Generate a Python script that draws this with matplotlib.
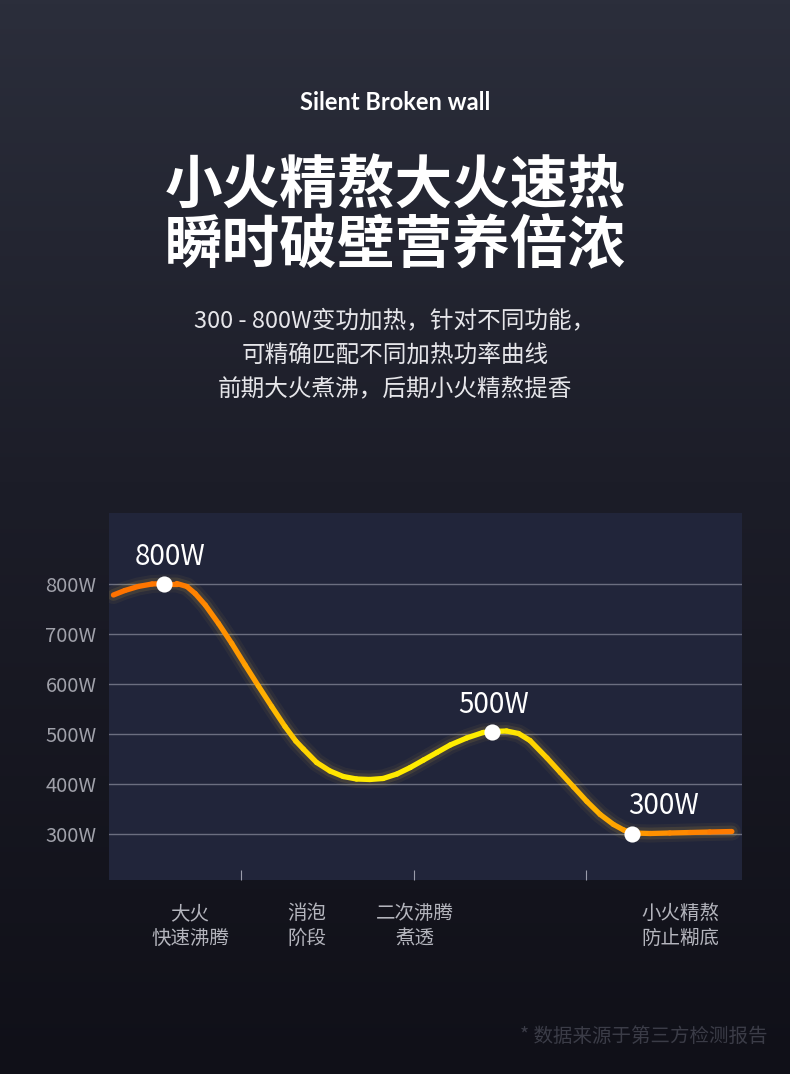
"""
Power curve poster: 300-800W variable heating curve with glow, on a dark gradient.
"""
import numpy as np
import matplotlib
matplotlib.use("Agg")
import matplotlib.pyplot as plt
from matplotlib.collections import LineCollection
from matplotlib.colors import LinearSegmentedColormap
from matplotlib.transforms import blended_transform_factory

plt.rcParams["font.family"] = ["Noto Sans CJK SC", "DejaVu Sans"]

# ---- data ----
# x: progress through the cooking programme, 0-100
curve_x = [0.7, 2.5, 4.6, 6.8, 8.7, 10.7, 12.3, 13.6, 15.2, 17.3, 19.4, 21.5,
           23.6, 25.7, 27.8, 29.5, 30.7, 32.8, 34.9, 37.0, 39.1, 41.2, 43.3,
           45.5, 47.6, 49.7, 51.8, 53.9, 56.5, 59.1, 60.5, 62.8, 64.7, 66.5,
           69.2, 71.3, 73.4, 75.5, 77.6, 79.7, 81.3, 82.7, 85.5, 88.6, 91.8,
           94.9, 98.4]
curve_w = [778, 787, 795, 800, 801, 801, 795, 781, 758, 721, 681, 638,
           596, 555, 515, 486, 470, 443, 426, 415, 410, 409, 411,
           420, 433, 448, 463, 478, 492, 503, 505, 506, 501, 487,
           452, 423, 394, 365, 339, 319, 308, 302, 301, 302, 303,
           304, 305]

point_x = [8.7, 60.5, 82.7]
point_w = [801, 505, 301]
point_labels = ["800W", "500W", "300W"]

y_ticks = [300, 400, 500, 600, 700, 800]
y_labels = ["300W", "400W", "500W", "600W", "700W", "800W"]

stage_ticks = [20.9, 48.2, 75.4]
stage_x = [12.8, 31.3, 48.3, 90.2]
stage_labels = ["大火\n快速沸腾", "消泡\n阶段", "二次沸腾\n煮透", "小火精熬\n防止糊底"]

eyebrow = "Silent Broken wall"
title_lines = ["小火精熬大火速热", "瞬时破壁营养倍浓"]
body_lines = ["300 - 800W变功加热，针对不同功能，",
              "可精确匹配不同加热功率曲线",
              "前期大火煮沸，后期小火精熬提香"]
footnote = "* 数据来源于第三方检测报告"

# ---- figure + background ----
W, H = 790, 1074
fig = plt.figure(figsize=(W / 100, H / 100), dpi=100)

bg = fig.add_axes([0, 0, 1, 1])
bg.set_axis_off()
top_c = np.array([43, 46, 59]) / 255
mid_c = np.array([28, 29, 40]) / 255
bot_c = np.array([16, 16, 24]) / 255
t = np.linspace(0, 1, 256)[:, None]
grad = np.where(t < 0.45,
                top_c + (mid_c - top_c) * (t / 0.45),
                mid_c + (bot_c - mid_c) * ((t - 0.45) / 0.55))
bg.imshow(grad[:, None, :].repeat(2, axis=1), aspect="auto",
          extent=[0, 1, 0, 1], zorder=0)
bg.set_xlim(0, 1)
bg.set_ylim(0, 1)

# header text
fig.text(0.5, 1 - 102 / H, eyebrow, ha="center", va="center", color="white",
         fontsize=17, fontweight="bold", family=["Lato", "DejaVu Sans"])
for i, line in enumerate(title_lines):
    fig.text(0.5, 1 - (186 + 60 * i) / H, line, ha="center", va="center",
             color="white", fontsize=41.5, fontweight="bold")
for i, line in enumerate(body_lines):
    fig.text(0.5, 1 - (321 + 34 * i) / H, line, ha="center", va="center",
             color="#e6e6ea", fontsize=17)

# ---- chart ----
ax = fig.add_axes([109 / W, 1 - 880 / H, 633 / W, 367 / H])
ax.set_facecolor("#21253a")
ax.set_xlim(0, 100)
ax.set_ylim(208, 942)
for s in ax.spines.values():
    s.set_visible(False)

ax.set_yticks(y_ticks, y_labels)
ax.tick_params(axis="y", length=0, pad=9, labelsize=14.5, labelcolor="#a0a1aa")
ax.grid(axis="y", color="#6b6e80", lw=1.0)
ax.set_axisbelow(True)

ax.set_xticks(stage_ticks, [""] * len(stage_ticks))
ax.tick_params(axis="x", direction="in", length=7, width=0.8, color="#9a9cab")

# soft glow: single-colour lines so the joins don't stack up
for lw, alpha in [(13, 0.05), (8.5, 0.10)]:
    ax.plot(curve_x, curve_w, color="#ffd23a", lw=lw, alpha=alpha,
            solid_capstyle="round", solid_joinstyle="round", zorder=3)

# gradient-coloured curve
xs = np.asarray(curve_x)
ys = np.asarray(curve_w)
pts = np.column_stack([xs, ys]).reshape(-1, 1, 2)
segs = np.concatenate([pts[:-1], pts[1:]], axis=1)
mid_x = (xs[:-1] + xs[1:]) / 2
cmap = LinearSegmentedColormap.from_list(
    "heat", [(0.0, "#ff7000"), (0.12, "#ff7c00"), (0.22, "#ff9e00"),
             (0.30, "#ffcf00"), (0.38, "#ffea00"), (0.62, "#ffee00"),
             (0.72, "#ffc200"), (0.84, "#ff9800"), (1.0, "#ff7400")])
colors = cmap(mid_x / 100)
ax.add_collection(LineCollection(segs, colors=colors, linewidths=3.8,
                                 capstyle="round", joinstyle="round", zorder=4))

ax.scatter(point_x, point_w, s=135, color="white", zorder=5, linewidths=0)
offsets = [(4, 19), (1, 19), (22, 20)]
for x, y, lab, off in zip(point_x, point_w, point_labels, offsets):
    ax.annotate(lab, (x, y), xytext=off, textcoords="offset points",
                ha="center", va="center", color="white", fontsize=20,
                zorder=6)

trans = blended_transform_factory(ax.transData, fig.transFigure)
for x, lab in zip(stage_x, stage_labels):
    fig.text(x, 1 - 926 / H, lab, transform=trans, ha="center", va="center",
             color="#b4b5bd", fontsize=14, linespacing=1.25)

fig.text(768 / W, 1 - 1036 / H, footnote, ha="right", va="center",
         color="#3b3c47", fontsize=14)

fig.savefig("out.png", dpi=100)
